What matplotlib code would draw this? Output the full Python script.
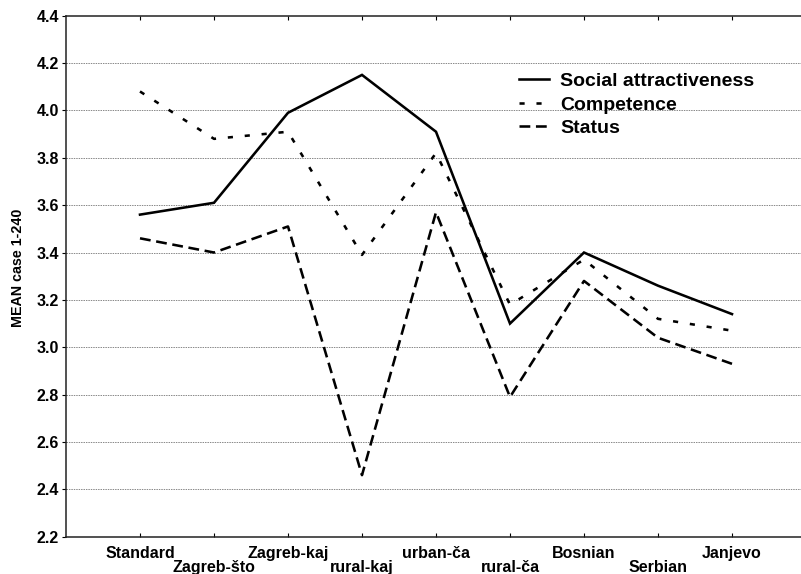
import matplotlib
matplotlib.use("Agg")
import matplotlib.pyplot as plt

categories = ['Standard', 'Zagreb-što', 'Zagreb-kaj', 'rural-kaj', 'urban-ča',
              'rural-ča', 'Bosnian', 'Serbian', 'Janjevo']
social = [3.56, 3.61, 3.99, 4.15, 3.91, 3.10, 3.40, 3.26, 3.14]
competence = [4.08, 3.88, 3.91, 3.39, 3.82, 3.18, 3.37, 3.12, 3.07]
status = [3.46, 3.40, 3.51, 2.46, 3.57, 2.79, 3.28, 3.04, 2.93]
yticks = [2.2, 2.4, 2.6, 2.8, 3.0, 3.2, 3.4, 3.6, 3.8, 4.0, 4.2, 4.4]
series_names = ['Social attractiveness', 'Competence', 'Status']

plt.rcParams['font.family'] = ['Liberation Sans', 'DejaVu Sans']
plt.rcParams['font.weight'] = 'bold'

W, H = 801, 574
fig = plt.figure(figsize=(W / 100, H / 100), dpi=100)
ax = fig.add_axes([66 / W, (H - 536.7) / H, 740 / W, 521 / H])

x = list(range(len(categories)))
lw = 1.85
ax.plot(x, social, color='black', lw=lw, linestyle='-', label=series_names[0],
        solid_joinstyle='miter')
ax.plot(x, competence, color='black', lw=lw, linestyle=(0, (2.0, 4.6)),
        label=series_names[1], dash_capstyle='butt')
ax.plot(x, status, color='black', lw=lw, linestyle=(0, (4.2, 2.2)),
        label=series_names[2], dash_capstyle='butt')

ax.set_xlim(-1, len(categories))
ax.set_ylim(yticks[0], yticks[-1])

ax.set_yticks(yticks)
ax.set_yticklabels([f"{v:.1f}" for v in yticks], fontsize=11.5, fontweight='bold')
for v in yticks[1:-1]:
    ax.axhline(v, color='#888888', lw=0.7, linestyle=(0, (1.5, 1.0)), zorder=0)

even = [i for i in x if i % 2 == 0]
odd = [i for i in x if i % 2 == 1]
ax.set_xticks(even)
ax.set_xticklabels([categories[i] for i in even], fontsize=11.5, fontweight='bold')
ax.set_xticks(odd, minor=True)
ax.set_xticklabels([categories[i] for i in odd], minor=True, fontsize=11.5,
                   fontweight='bold')
ax.tick_params(axis='x', which='both', direction='in', length=3, width=0.8,
               top=True, colors='black')
ax.tick_params(axis='x', which='major', pad=6.5)
ax.tick_params(axis='x', which='minor', pad=16.6)
ax.tick_params(axis='y', direction='out', length=3, width=0.8, pad=2)

for s in ['left', 'top', 'bottom']:
    ax.spines[s].set_linewidth(1.1)
    ax.spines[s].set_color('#222222')
ax.spines['right'].set_visible(False)

ax.set_ylabel('MEAN case 1-240', fontsize=10.3, fontweight='bold')
ax.yaxis.set_label_coords((25 - 66) / 740, 0.516)

leg = fig.legend(loc='upper left', bbox_to_anchor=(519 / W, 1 - 72.5 / H),
                 frameon=False, fontsize=14, handlelength=1.54,
                 handletextpad=0.57, labelspacing=0.3, borderpad=0,
                 borderaxespad=0)
for t in leg.get_texts():
    t.set_fontweight('bold')

fig.savefig('out.png', dpi=100)
